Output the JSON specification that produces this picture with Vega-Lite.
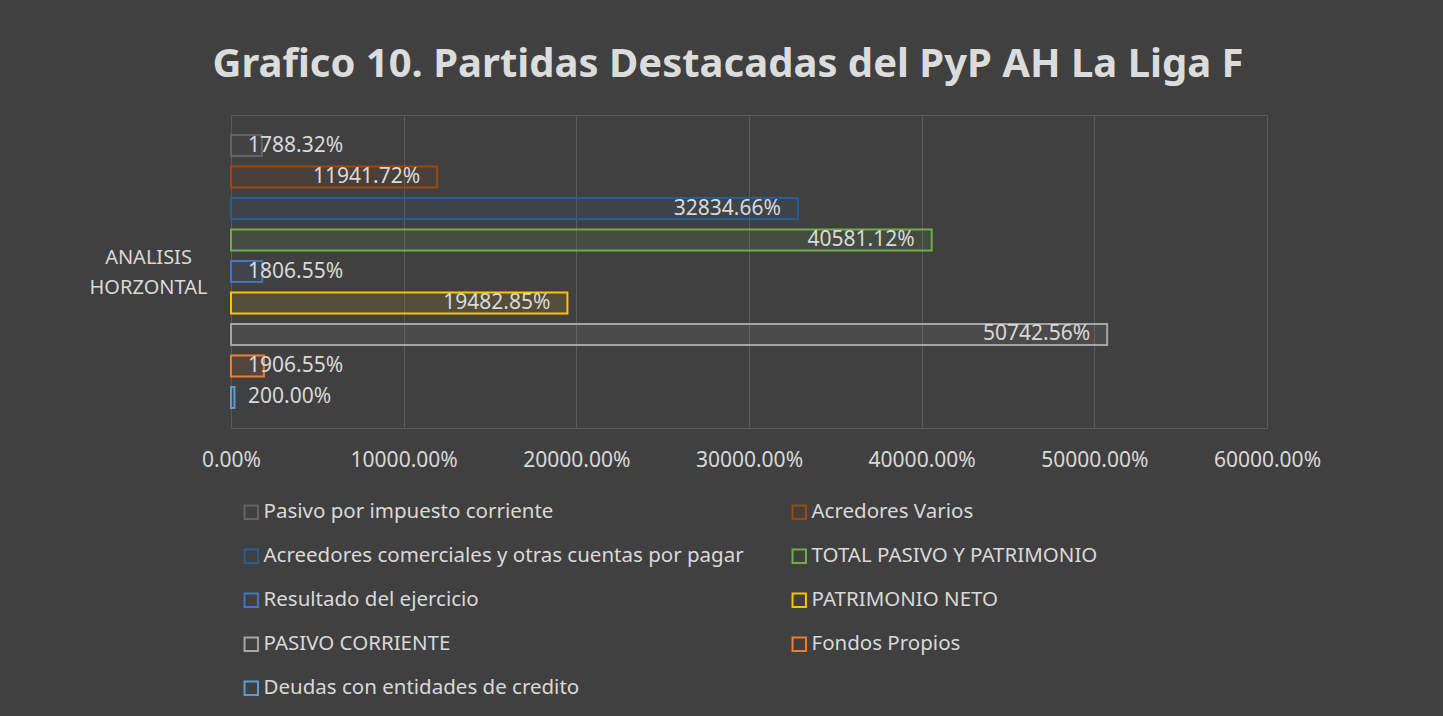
{
  "$schema": "https://vega.github.io/schema/vega-lite/v6.json",
  "width": 1036,
  "height": 313,
  "autosize": {"type": "none"},
  "padding": {"left": 231, "top": 115, "right": 176, "bottom": 288},
  "background": "#404040",
  "title": {
    "text": "Grafico 10. Partidas Destacadas del PyP AH La Liga F",
    "font": "Noto Sans",
    "fontSize": 40,
    "fontWeight": "bold",
    "color": "#dcdcdc",
    "anchor": "middle",
    "dx": -21,
    "offset": 30
  },
  "config": {
    "view": {"stroke": "#5a5a5a", "strokeWidth": 1},
    "font": "Noto Sans"
  },
  "data": {
    "values": [
      {"grupo": "ANALISIS HORZONTAL", "serie": "Pasivo por impuesto corriente", "valor": 17.8832},
      {"grupo": "ANALISIS HORZONTAL", "serie": "Acredores Varios", "valor": 119.4172},
      {"grupo": "ANALISIS HORZONTAL", "serie": "Acreedores comerciales y otras cuentas por pagar", "valor": 328.3466},
      {"grupo": "ANALISIS HORZONTAL", "serie": "TOTAL PASIVO Y PATRIMONIO", "valor": 405.8112},
      {"grupo": "ANALISIS HORZONTAL", "serie": "Resultado del ejercicio", "valor": 18.0655},
      {"grupo": "ANALISIS HORZONTAL", "serie": "PATRIMONIO NETO", "valor": 194.8285},
      {"grupo": "ANALISIS HORZONTAL", "serie": "PASIVO CORRIENTE", "valor": 507.4256},
      {"grupo": "ANALISIS HORZONTAL", "serie": "Fondos Propios", "valor": 19.0655},
      {"grupo": "ANALISIS HORZONTAL", "serie": "Deudas con entidades de credito", "valor": 2.0}
    ]
  },
  "encoding": {
    "y": {
      "field": "grupo",
      "type": "nominal",
      "scale": {"paddingInner": 0, "paddingOuter": 0},
      "axis": {
        "title": null,
        "labelExpr": "split(datum.label, ' ')",
        "labelAlign": "center",
        "labelBaseline": "middle",
        "labelPadding": 83,
        "labelOffset": -14,
        "ticks": false,
        "tickSize": 0,
        "domain": false,
        "grid": false,
        "labelFont": "Noto Sans",
        "labelFontSize": 20,
        "labelLineHeight": 30,
        "labelColor": "#d9d9d9",
        "labelLimit": 300
      }
    },
    "yOffset": {
      "field": "serie",
      "type": "nominal",
      "sort": [
        "Pasivo por impuesto corriente",
        "Acredores Varios",
        "Acreedores comerciales y otras cuentas por pagar",
        "TOTAL PASIVO Y PATRIMONIO",
        "Resultado del ejercicio",
        "PATRIMONIO NETO",
        "PASIVO CORRIENTE",
        "Fondos Propios",
        "Deudas con entidades de credito"
      ],
      "scale": {"paddingInner": 0.333, "paddingOuter": 0.635}
    },
    "x": {
      "field": "valor",
      "type": "quantitative",
      "scale": {"domain": [0, 600], "nice": false, "zero": true},
      "axis": {
        "title": null,
        "format": ".2%",
        "values": [0, 100, 200, 300, 400, 500, 600],
        "labelFlush": false,
        "labelOverlap": false,
        "labelFont": "Noto Sans",
        "labelFontSize": 21,
        "labelColor": "#d9d9d9",
        "labelPadding": 21,
        "ticks": false,
        "domain": false,
        "grid": true,
        "gridColor": "#5a5a5a",
        "gridWidth": 1
      }
    },
    "color": {
      "field": "serie",
      "type": "nominal",
      "scale": {
        "domain": [
          "Pasivo por impuesto corriente",
          "Acredores Varios",
          "Acreedores comerciales y otras cuentas por pagar",
          "TOTAL PASIVO Y PATRIMONIO",
          "Resultado del ejercicio",
          "PATRIMONIO NETO",
          "PASIVO CORRIENTE",
          "Fondos Propios",
          "Deudas con entidades de credito"
        ],
        "range": ["#636363", "#9e480e", "#255e91", "#70ad47", "#4472c4", "#ffc000", "#a5a5a5", "#ed7d31", "#5b9bd5"]
      },
      "legend": {
        "title": null,
        "orient": "none",
        "legendX": 10,
        "legendY": 387,
        "direction": "horizontal",
        "columns": 2,
        "columnPadding": 44,
        "rowPadding": 22,
        "symbolType": "square",
        "symbolSize": 180,
        "symbolStrokeWidth": 2,
        "symbolFillColor": "transparent",
        "labelFont": "Noto Sans",
        "labelFontSize": 20.5,
        "labelColor": "#d9d9d9",
        "labelOffset": 2,
        "labelLimit": 700,
        "encode": {
          "symbols": {
            "update": {
              "fill": {"value": "transparent"},
              "fillOpacity": {"value": 0},
              "stroke": {"scale": "color", "field": "value"},
              "strokeWidth": {"value": 2},
              "opacity": {"value": 1}
            }
          }
        }
      }
    }
  },
  "layer": [
    {
      "mark": {"type": "bar", "filled": false, "strokeWidth": 2}
    },
    {
      "mark": {"type": "bar", "fillOpacity": 0.1, "strokeWidth": 0}
    },
    {
      "transform": [{"filter": "datum.valor > 50"}],
      "mark": {"type": "text", "align": "right", "baseline": "middle", "dx": -17, "font": "Noto Sans", "fontSize": 21, "color": "#d9d9d9"},
      "encoding": {
        "color": {"value": "#d9d9d9"},
        "text": {"field": "valor", "type": "quantitative", "format": ".2%"}
      }
    },
    {
      "transform": [{"filter": "datum.valor <= 50"}],
      "mark": {"type": "text", "align": "left", "baseline": "middle", "dx": 17, "font": "Noto Sans", "fontSize": 21, "color": "#d9d9d9"},
      "encoding": {
        "x": {"datum": 0},
        "color": {"value": "#d9d9d9"},
        "text": {"field": "valor", "type": "quantitative", "format": ".2%"}
      }
    }
  ]
}
